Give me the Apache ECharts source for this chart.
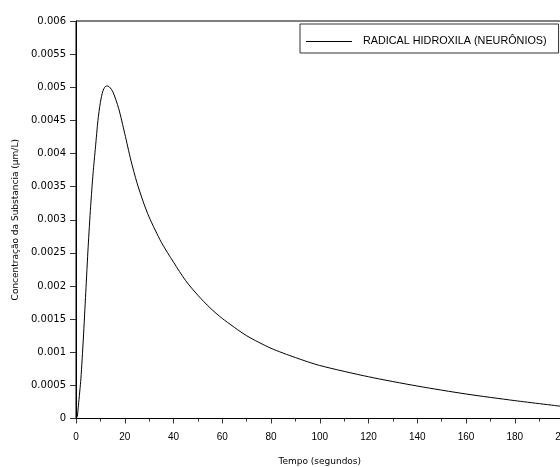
<!DOCTYPE html>
<html>
<head>
<meta charset="utf-8">
<script src="https://cdn.jsdelivr.net/npm/echarts@6/dist/echarts.min.js"></script>
<style>html,body{margin:0;padding:0;background:#fff}#c{width:560px;height:467px}</style>
</head>
<body>
<div id="c"></div>
<script>
const seriesName = 'RADICAL HIDROXILA (NEURÔNIOS)';
const time = [0, 0.5, 1, 2, 3, 4, 5, 6, 7, 8, 9, 10, 11, 12, 13, 15, 17.5, 20, 22.5, 25, 27.5, 30, 35, 40, 45, 50, 55, 60, 70, 80, 90, 100, 120, 140, 160, 180, 200];
const conc = [0, 0.00003, 0.0002, 0.0006, 0.0012, 0.0019, 0.0026, 0.0032, 0.0037, 0.0041, 0.0045, 0.00477, 0.00494, 0.00501, 0.00502, 0.00494, 0.00468, 0.0043, 0.0039, 0.00356, 0.00328, 0.00304, 0.00266, 0.00236, 0.00208, 0.00186, 0.00167, 0.00151, 0.00125, 0.00106, 0.00092, 0.0008, 0.00063, 0.00049, 0.00037, 0.00027, 0.00018];
const xTicks = [0, 20, 40, 60, 80, 100, 120, 140, 160, 180, 200];
const yTicks = [0, 0.0005, 0.001, 0.0015, 0.002, 0.0025, 0.003, 0.0035, 0.004, 0.0045, 0.005, 0.0055, 0.006];

const chart = echarts.init(document.getElementById('c'));
chart.setOption({
  animation: false,
  backgroundColor: '#fff',
  grid: { left: 76, top: 21, width: 487.5, height: 397.5, show: true, borderColor: '#000', borderWidth: 1,
          backgroundColor: 'transparent', outerBoundsMode: 'none', containLabel: false },
  legend: {
    show: true,
    data: [{ name: seriesName, icon: 'rect' }],
    left: 300, top: 24,
    padding: [12, 12, 6, 6],
    borderColor: '#333', borderWidth: 1,
    itemWidth: 46, itemHeight: 1,
    itemStyle: { color: '#000' },
    textStyle: { fontFamily: 'Liberation Sans', fontSize: 10.8, color: '#000', padding: [0, 0, 0, 6] }
  },
  xAxis: {
    type: 'value', min: xTicks[0], max: xTicks[xTicks.length - 1], interval: 20,
    name: 'Tempo (segundos)', nameLocation: 'middle', nameGap: 39,
    nameTextStyle: { fontFamily: 'DejaVu Sans', fontSize: 9, color: '#000' },
    axisLine: { show: true, lineStyle: { color: '#000', width: 1 } },
    axisTick: { show: true, length: 5, lineStyle: { color: '#333' } },
    minorTick: { show: true, splitNumber: 2, length: 3, lineStyle: { color: '#333' } },
    splitLine: { show: false },
    axisLabel: { margin: 14, fontFamily: 'Liberation Sans', fontSize: 10, color: '#000', showMaxLabel: true }
  },
  yAxis: {
    type: 'value', min: yTicks[0], max: yTicks[yTicks.length - 1], interval: 0.0005,
    name: 'Concentração da Substancia (µm/L)', nameLocation: 'middle', nameGap: 56,
    nameTextStyle: { fontFamily: 'DejaVu Sans', fontSize: 9, color: '#000' },
    axisLine: { show: true, lineStyle: { color: '#000', width: 1 } },
    axisTick: { show: true, length: 6, lineStyle: { color: '#333' } },
    splitLine: { show: false },
    axisLabel: { margin: 10, fontFamily: 'DejaVu Sans', fontSize: 10, color: '#000',
      formatter: v => String(+v.toFixed(4)) }
  },
  series: [{
    name: seriesName, type: 'line', smooth: 0.25, showSymbol: false, symbol: 'none',
    lineStyle: { color: '#000', width: 1 },
    itemStyle: { color: '#000' },
    data: time.map((t, i) => [t, conc[i]])
  }]
});
</script>
</body>
</html>
